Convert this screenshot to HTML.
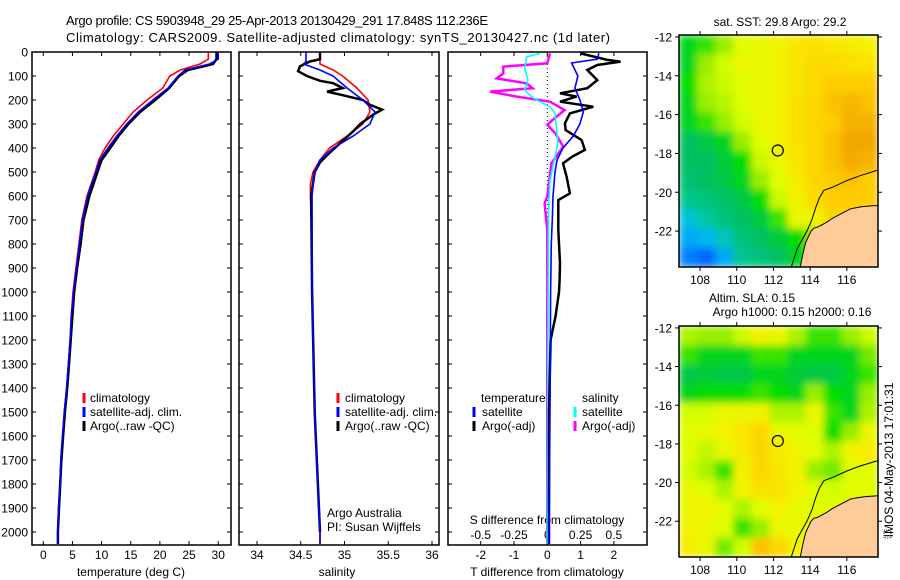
<!DOCTYPE html>
<html><head><meta charset="utf-8"><style>
html,body{margin:0;padding:0;background:#fff;}
svg{display:block;font-family:"Liberation Sans",sans-serif;}
text{fill:#000;}
</style></head>
<body>
<svg id="chart" width="900" height="580" viewBox="0 0 900 580" xmlns="http://www.w3.org/2000/svg">
<defs>
<clipPath id="cp1"><rect x="32" y="52" width="199" height="493"/></clipPath>
<clipPath id="cp2"><rect x="239" y="52" width="200" height="493"/></clipPath>
<clipPath id="cp3"><rect x="448" y="52" width="199" height="493"/></clipPath>
<clipPath id="cpm1"><rect x="679" y="35" width="199" height="232"/></clipPath>
<clipPath id="cpm2"><rect x="679" y="326" width="199" height="231"/></clipPath>
<filter id="blur" x="0" y="0" width="1" height="1"><feGaussianBlur stdDeviation="4" edgeMode="duplicate"/></filter>
</defs>
<text x="66" y="25" font-size="13" textLength="422">Argo profile: CS 5903948_29 25-Apr-2013 20130429_291 17.848S 112.236E</text>
<text x="66" y="42" font-size="13" textLength="544">Climatology: CARS2009. Satellite-adjusted climatology: synTS_20130427.nc (1d later)</text>
<text x="780" y="26" font-size="12" text-anchor="middle">sat. SST: 29.8 Argo: 29.2</text>
<text x="752" y="302" font-size="12" text-anchor="middle">Altim. SLA: 0.15</text>
<text x="792" y="316" font-size="12" text-anchor="middle">Argo h1000: 0.15 h2000: 0.16</text>
<text transform="translate(893,460) rotate(-90)" font-size="12" text-anchor="middle">IMOS 04-May-2013 17:01:31</text>
<rect x="884" y="530" width="7" height="8" fill="none" stroke="#000" stroke-width="0.8" stroke-dasharray="1,1"/>
<g id="layer"></g>
</svg>
<script>
// ---------- data ----------
const depthT = [0,30,50,75,100,150,200,250,300,350,400,450,500,600,700,800,900,1000,1100,1200,1300,1400,1500,1600,1700,1800,1900,2000,2050];
const tClim = [28.3,28.3,26.9,23.5,21.7,20.5,17.8,15.4,13.7,12.0,10.6,9.5,8.9,7.5,6.6,6.1,5.6,5.1,4.8,4.6,4.3,4.0,3.6,3.3,3.0,2.9,2.6,2.5,2.5];
const tSat = [30.0,30.0,28.5,24.3,23.1,21.4,18.8,16.3,14.3,12.6,11.1,9.7,9.0,7.6,6.7,6.2,5.7,5.2,4.8,4.6,4.3,4.0,3.6,3.3,3.0,2.9,2.6,2.5,2.5];
const tArgo = [29.7,29.7,29.1,24.8,23.3,21.6,19.2,16.6,14.6,12.9,11.5,10.0,9.3,7.9,6.9,6.4,5.8,5.3,5.0,4.7,4.4,4.1,3.7,3.4,3.1,2.9,2.7,2.5,2.5];

const depthS = [0,40,50,75,100,150,200,250,300,350,400,450,500,550,600,700,1000,1500,2000,2050];
const sClim = [34.72,34.72,34.72,34.87,34.98,35.14,35.27,35.29,35.21,35.03,34.83,34.72,34.64,34.61,34.61,34.62,34.63,34.66,34.72,34.72];
const sSat = [34.56,34.56,34.53,34.72,34.87,35.03,35.21,35.35,35.29,35.10,34.87,34.72,34.66,34.64,34.63,34.63,34.63,34.66,34.72,34.72];
const depthSArgo = [0,30,40,60,80,100,120,130,150,165,180,200,220,240,260,300,330,380,420,460,500,600,1000,1500,2000];
const sArgo = [34.72,34.72,34.60,34.49,34.47,34.57,34.72,34.87,34.98,34.80,34.98,35.21,35.29,35.43,35.33,35.18,35.10,34.95,34.83,34.72,34.66,34.62,34.63,34.66,34.72];

const depthDTSat = [5,30,46,100,150,200,250,300,350,400,450,500,600,700,800,1000,1500,2050];
const dTSat = [1.55,1.5,0.73,0.92,0.83,0.98,1.08,0.98,0.78,0.47,0.29,0.23,0.17,0.15,0.12,0.1,0.08,0.05];
const depthDTArgo = [6,33,40,54,75,117,151,172,186,207,228,256,297,325,367,408,436,464,519,589,617,742,881,950,1000,1100,1200,1500,2050];
const dTArgo = [1.0,1.8,2.2,1.5,1.2,1.5,1.2,0.38,0.88,0.38,1.38,0.68,0.53,0.55,1.03,1.13,0.75,0.47,0.58,0.68,0.33,0.33,0.38,0.37,0.35,0.25,0.1,0.05,0.05];
const depthDSSat = [6,20,68,117,158,186,207,228,256,325,380,436,533,672,2050];
const dSSat = [-0.055,-0.155,-0.17,-0.145,-0.17,-0.12,-0.055,0.02,0.058,0.07,0.08,0.058,0.02,0.008,0.0];
const depthDSArgo = [6,47,61,89,110,131,151,165,186,207,242,269,303,339,394,464,603,631,742,2050];
const dSArgo = [0.02,0.0,-0.33,-0.33,-0.38,-0.155,-0.11,-0.43,-0.23,0.02,0.13,0.07,0.0,0.06,0.12,0.03,0.0,-0.02,0.0,0.0];

const depthTicks = [0,100,200,300,400,500,600,700,800,900,1000,1100,1200,1300,1400,1500,1600,1700,1800,1900,2000];
const tempTicks = [0,5,10,15,20,25,30];
const salTicks = [34,34.5,35,35.5,36];
const dTTicks = [-2,-1,0,1,2];
const dSTicks = [-0.5,-0.25,0,0.25,0.5];
const dSTickLabels = ['-0.5','-0.25','0','0.25','0.5'];

// maps: rows lat -12..-23, cols lon 107..117
const sstGrid = [
[0.50,0.55,0.60,0.68,0.70,0.72,0.75,0.76,0.75,0.74,0.72],
[0.50,0.60,0.66,0.70,0.70,0.72,0.75,0.77,0.77,0.76,0.76],
[0.52,0.62,0.65,0.68,0.70,0.72,0.75,0.77,0.80,0.80,0.80],
[0.50,0.60,0.63,0.68,0.70,0.72,0.76,0.78,0.82,0.84,0.82],
[0.50,0.55,0.60,0.66,0.70,0.72,0.76,0.78,0.80,0.85,0.85],
[0.45,0.47,0.50,0.60,0.68,0.72,0.76,0.78,0.82,0.87,0.87],
[0.45,0.45,0.48,0.52,0.65,0.70,0.75,0.78,0.82,0.86,0.85],
[0.43,0.45,0.47,0.50,0.60,0.68,0.74,0.78,0.80,0.82,0.80],
[0.40,0.42,0.44,0.47,0.52,0.65,0.72,0.77,0.80,0.80,0.80],
[0.32,0.38,0.42,0.45,0.48,0.55,0.70,0.72,0.78,0.78,0.78],
[0.25,0.28,0.35,0.42,0.45,0.48,0.52,0.60,0.70,0.78,0.78],
[0.18,0.15,0.25,0.40,0.42,0.45,0.50,0.55,0.65,0.78,0.78]];
const slaGrid = [
[0.62,0.60,0.60,0.65,0.72,0.70,0.62,0.55,0.55,0.60,0.65],
[0.55,0.50,0.50,0.50,0.55,0.55,0.50,0.50,0.50,0.50,0.58],
[0.47,0.48,0.47,0.47,0.50,0.50,0.48,0.47,0.47,0.50,0.55],
[0.50,0.52,0.52,0.52,0.55,0.52,0.50,0.60,0.52,0.50,0.60],
[0.66,0.66,0.70,0.70,0.72,0.62,0.62,0.70,0.55,0.50,0.62],
[0.68,0.70,0.72,0.75,0.78,0.70,0.68,0.68,0.52,0.60,0.70],
[0.68,0.64,0.70,0.74,0.78,0.74,0.72,0.68,0.62,0.72,0.74],
[0.66,0.62,0.55,0.72,0.78,0.75,0.72,0.60,0.58,0.68,0.68],
[0.70,0.68,0.62,0.72,0.76,0.76,0.72,0.68,0.66,0.68,0.68],
[0.70,0.72,0.68,0.62,0.68,0.72,0.70,0.68,0.68,0.68,0.68],
[0.72,0.70,0.68,0.55,0.60,0.70,0.70,0.68,0.68,0.68,0.68],
[0.74,0.70,0.58,0.66,0.82,0.78,0.72,0.68,0.68,0.68,0.68]];
const coastLon = [113.45,113.6,113.75,113.9,114.05,114.2,114.4,114.6,114.9,115.2,115.5,115.9,116.2,116.5,116.8,117.1,117.4,117.8];
const coastLat = [-23.9,-23.2,-22.6,-22.3,-22.0,-21.85,-21.8,-21.7,-21.55,-21.35,-21.2,-21.0,-20.85,-20.8,-20.75,-20.72,-20.7,-20.68];
const isoLon = [112.95,113.3,113.85,114.1,114.3,114.5,114.75,115.2,116.0,116.7,117.8];
const isoLat = [-23.9,-22.9,-21.95,-21.4,-20.8,-20.3,-19.9,-19.75,-19.4,-19.15,-18.83];
const argoLon = 112.236, argoLat = -17.848;
const mapLonTicks = [108,110,112,114,116];
const mapLatTicks = [-12,-14,-16,-18,-20,-22];

// ---------- helpers ----------
const NS = 'http://www.w3.org/2000/svg';
const layer = document.getElementById('layer');
function mk(tag, attrs, parent){const e=document.createElementNS(NS,tag);for(const k in attrs)e.setAttribute(k,attrs[k]);(parent||layer).appendChild(e);return e;}
const Y0=52, Y1=545;
const yD = d => Y0 + d*0.24;
const xT = t => 43.3 + t*5.83;
const xS = s => 257 + (s-34)*87.5;
const xDT = v => 547.3 + v*33.3;
const xDS = v => 547.3 + v*133.2;

function series(ds, vs, xf, color, w, clip, name){
  const pts = ds.map((d,i)=>xf(vs[i]).toFixed(1)+','+yD(d).toFixed(1)).join(' ');
  const p = mk('polyline',{points:pts,fill:'none',stroke:color,'stroke-width':w,'stroke-linejoin':'miter','clip-path':'url(#'+clip+')'});
  
  
}
function txt(x,y,s,size,anchor,name){
  const t = mk('text',{x:x,y:y,'font-size':size,'text-anchor':anchor||'start'});
  t.textContent = s;
  
  
  return t;
}
function frame(x0,x1,y0,y1,name){
  const r = mk('rect',{x:x0,y:y0,width:x1-x0,height:y1-y0,fill:'none',stroke:'#000','stroke-width':1.5});
  
  
}
function tick(x1,y1,x2,y2){
  const l = mk('line',{x1:x1,y1:y1,x2:x2,y2:y2,stroke:'#000','stroke-width':1});
  
  
}
function legendMark(x,y,color){
  const l = mk('line',{x1:x,y1:y-5,x2:x,y2:y+5,stroke:color,'stroke-width':3});
  
  
}

// ---------- profile panels ----------
const panels = [[32,231],[239,439],[448,647]];
panels.forEach((p,i)=>{
  frame(p[0],p[1],Y0,Y1,'profile-panel-'+(i+1));
  depthTicks.forEach(d=>{ tick(p[0],yD(d),p[0]+4,yD(d)); tick(p[1],yD(d),p[1]-4,yD(d)); });
});
depthTicks.forEach(d=>txt(28,yD(d)+4.5,String(d),12,'end','depth-tick-label'));
tempTicks.forEach(t=>{ tick(xT(t),Y1,xT(t),Y1-4); tick(xT(t),Y0,xT(t),Y0+4); txt(xT(t),559,String(t),12,'middle','temperature-tick-label'); });
salTicks.forEach(s=>{ tick(xS(s),Y1,xS(s),Y1-4); tick(xS(s),Y0,xS(s),Y0+4); txt(xS(s),559,String(s),12,'middle','salinity-tick-label'); });
dTTicks.forEach(v=>{ tick(xDT(v),Y1,xDT(v),Y1-4); tick(xDT(v),Y0,xDT(v),Y0+4); txt(xDT(v),559,String(v),12,'middle','t-diff-tick-label'); });
dSTicks.forEach((v,i)=>txt(xDS(v),539,dSTickLabels[i],12,'middle','s-diff-tick-label'));
txt(131,576,'temperature (deg C)',12,'middle','temperature-axis-title');
txt(337,576,'salinity',12,'middle','salinity-axis-title');
txt(547,576,'T difference from climatology',12,'middle','t-diff-axis-title');
txt(547,524,'S difference from climatology',12,'middle','s-diff-axis-title');

// zero line in diff panel
const zl = mk('line',{x1:xDT(0),y1:Y0,x2:xDT(0),y2:yD(700),stroke:'#000','stroke-width':1,'stroke-dasharray':'1,3'});



series(depthT,tClim,xT,'#ff0000',1.6,'cp1','temperature-climatology-line');
series(depthT,tArgo,xT,'#000000',2.5,'cp1','temperature-argo-line');
series(depthT,tSat,xT,'#0000ff',1.6,'cp1','temperature-satellite-line');
series(depthS,sClim,xS,'#ff0000',1.6,'cp2','salinity-climatology-line');
series(depthSArgo,sArgo,xS,'#000000',2.5,'cp2','salinity-argo-line');
series(depthS,sSat,xS,'#0000ff',1.6,'cp2','salinity-satellite-line');
series(depthDSArgo,dSArgo,xDS,'#ff00ff',2.5,'cp3','s-diff-argo-line');
series(depthDSSat,dSSat,xDS,'#00ffff',1.6,'cp3','s-diff-satellite-line');
series(depthDTArgo,dTArgo,xDT,'#000000',2.5,'cp3','t-diff-argo-line');
series(depthDTSat,dTSat,xDT,'#0000ff',1.6,'cp3','t-diff-satellite-line');

// legends
[[84,90],[338,345]].forEach((l,i)=>{
  legendMark(l[0],398,'#ff0000'); txt(l[1],402,'climatology',12,'start','legend-climatology');
  legendMark(l[0],412,'#0000ff'); txt(l[1],416,'satellite-adj. clim.',12,'start','legend-satellite-adj');
  legendMark(l[0],426,'#000000'); txt(l[1],430,'Argo(..raw -QC)',12,'start','legend-argo');
});
txt(481,402,'temperature',12,'start','legend-temperature-heading');
legendMark(474,412,'#0000ff'); txt(482,416,'satellite',12,'start','legend-t-satellite');
legendMark(474,426,'#000000'); txt(482,430,'Argo(-adj)',12,'start','legend-t-argo');
txt(582,402,'salinity',12,'start','legend-salinity-heading');
legendMark(575,412,'#00ffff'); txt(582,416,'satellite',12,'start','legend-s-satellite');
legendMark(575,426,'#ff00ff'); txt(582,430,'Argo(-adj)',12,'start','legend-s-argo');
txt(327,517,'Argo Australia',12,'start','credit-argo-australia');
txt(327,531,'PI: Susan Wijffels',12,'start','credit-pi');

// ---------- maps ----------
const stops = [[0.1,[0,64,255]],[0.2,[0,144,255]],[0.3,[0,192,232]],[0.38,[0,200,160]],[0.45,[0,192,96]],[0.52,[0,221,0]],[0.6,[153,238,0]],[0.67,[221,255,0]],[0.73,[246,240,0]],[0.8,[255,204,0]],[0.88,[240,160,0]]];
function cmap(v){
  if(v<=stops[0][0]) return 'rgb('+stops[0][1]+')';
  for(let i=1;i<stops.length;i++){ if(v<=stops[i][0]){ const a=stops[i-1],b=stops[i],f=(v-a[0])/(b[0]-a[0]);
    return 'rgb('+a[1].map((c,k)=>Math.round(c+(b[1][k]-c)*f)).join(',')+')'; } }
  return 'rgb('+stops[stops.length-1][1]+')';
}
const MX0=679, MX1=878, LON0=106.85, LON1=117.7, LAT0=-11.9, LAT1=-23.85;
function drawMap(grid, y0, y1, clip, name){
  const xm = lon => MX0 + (lon-LON0)/(LON1-LON0)*(MX1-MX0);
  const ym = lat => y0 + (LAT0-lat)/(LAT0-LAT1)*(y1-y0);
  const g = mk('g',{'clip-path':'url(#'+clip+')'});
  
  
  const cells = mk('g',{filter:'url(#blur)'},g);
  
  
  const rows=grid.length, cols=grid[0].length, cw=(MX1-MX0)/cols, ch=(y1-y0)/rows;
  grid.forEach((row,r)=>row.forEach((v,c)=>{
    const cell = mk('rect',{x:MX0+c*cw,y:y0+r*ch,width:cw+0.6,height:ch+0.6,fill:cmap(v)},cells);
    
    
  }));
  let d='M'+coastLon.map((lo,i)=>xm(lo).toFixed(1)+','+ym(coastLat[i]).toFixed(1)).join(' L');
  d+=' L'+(MX1+5)+','+(y1+5)+' Z';
  const land = mk('path',{d:d,fill:'#ffcc99',stroke:'#000','stroke-width':1},g);
  
  
  const iso = mk('polyline',{points:isoLon.map((lo,i)=>xm(lo).toFixed(1)+','+ym(isoLat[i]).toFixed(1)).join(' '),fill:'none',stroke:'#000','stroke-width':1},g);
  
  
  const c = mk('circle',{cx:xm(argoLon),cy:ym(argoLat),r:5.5,fill:'none',stroke:'#000','stroke-width':1.2});
  
  
  frame(MX0,MX1,y0,y1,name+'-frame');
  mapLonTicks.forEach(lo=>{ tick(xm(lo),y0,xm(lo),y0-4); tick(xm(lo),y1,xm(lo),y1+4); txt(xm(lo),y1+17,String(lo),12,'middle',name+'-lon-label'); });
  mapLatTicks.forEach(la=>{ tick(MX0,ym(la),MX0-4,ym(la)); tick(MX1,ym(la),MX1+4,ym(la)); txt(672,ym(la)+4.5,String(la),12,'end',name+'-lat-label'); });
}
drawMap(sstGrid,35,267,'cpm1','sst-map');
drawMap(slaGrid,326,557,'cpm2','sla-map');
</script>
</body></html>
